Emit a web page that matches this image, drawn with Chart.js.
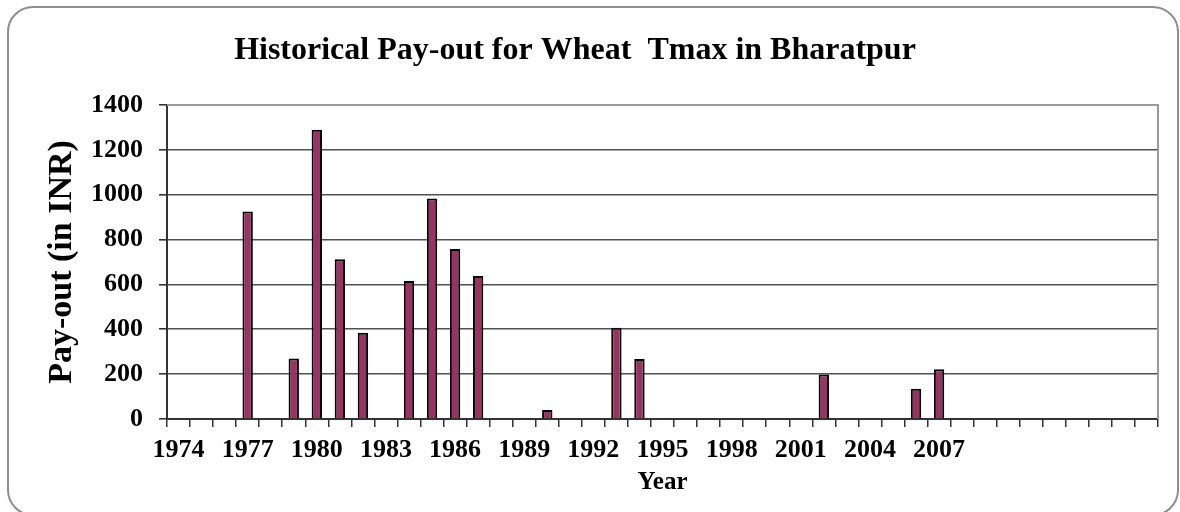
<!DOCTYPE html>
<html>
<head>
<meta charset="utf-8">
<script src="https://cdn.jsdelivr.net/npm/chart.js@4.4.1/dist/chart.umd.min.js"></script>
<style>
  html, body { margin: 0; padding: 0; background: #fff; }
  #wrap { position: relative; width: 1180px; height: 512px; }
  #frame {
    position: absolute; left: 7px; top: 6px; width: 1172px; height: 510px;
    border: 2px solid #8e8e8e; border-radius: 26px; box-sizing: border-box;
  }
  canvas { position: absolute; left: 0; top: 0; }
</style>
</head>
<body>
<div id="wrap">
  <div id="frame"></div>
  <canvas id="chart" width="1180" height="512"></canvas>
</div>
<script>
// years on the category axis (the sheet had 9 more empty rows after 2007)
const years = [
  '1974', '1975', '1976', '1977', '1978', '1979', '1980', '1981', '1982', '1983',
  '1984', '1985', '1986', '1987', '1988', '1989', '1990', '1991', '1992', '1993',
  '1994', '1995', '1996', '1997', '1998', '1999', '2000', '2001', '2002', '2003',
  '2004', '2005', '2006', '2007', '', '', '', '', '', '', '', '', ''
];
// pay-out in INR
const payout = [
  0, 0, 0, 925, 0, 270, 1290, 712, 385, 0,
  615, 983, 758, 638, 0, 0, 40, 0, 0, 407,
  268, 0, 0, 0, 0, 0, 0, 0, 198, 0,
  0, 0, 135, 222, null, null, null, null, null, null, null, null, null
];
const yTicks = [0, 200, 400, 600, 800, 1000, 1200, 1400];
const chartTitle = 'Historical Pay-out for Wheat  Tmax in Bharatpur';

const serif = "'Liberation Serif', 'Times New Roman', serif";

// title sits a bit left of the plot centre in the original, so draw it here
const titleText = {
  id: 'titleText',
  afterDraw(chart) {
    const c = chart.ctx;
    c.save();
    c.fillStyle = '#000';
    c.font = 'bold 32px ' + serif;
    c.textAlign = 'center';
    c.textBaseline = 'middle';
    c.fillText(chartTitle, 575, 51);
    c.restore();
  }
};

// light grey plot-area edge on top and right
const plotEdge = {
  id: 'plotEdge',
  afterDraw(chart) {
    const a = chart.chartArea, c = chart.ctx;
    c.save();
    c.strokeStyle = '#9a9a9a';
    c.lineWidth = 2;
    c.beginPath();
    c.moveTo(a.left, a.top);
    c.lineTo(a.right, a.top);
    c.lineTo(a.right, a.bottom);
    c.stroke();
    c.restore();
  }
};

new Chart(document.getElementById('chart'), {
  type: 'bar',
  data: {
    labels: years,
    datasets: [{
      label: 'Pay-out',
      data: payout,
      backgroundColor: '#993366',
      borderColor: '#000',
      borderWidth: 2,
      categoryPercentage: 1,
      barPercentage: 0.45
    }]
  },
  options: {
    responsive: false,
    animation: false,
    layout: { padding: { left: 42, right: 22, top: 105, bottom: 12 } },
    plugins: {
      legend: { display: false },
      tooltip: { enabled: false },
      title: { display: false }
    },
    scales: {
      x: {
        grid: { display: true, drawOnChartArea: false, drawTicks: true, tickLength: 8, color: '#333', lineWidth: 1.5 },
        border: { color: '#333', width: 2 },
        ticks: {
          autoSkip: false, maxRotation: 0, color: '#000', padding: 8,
          font: { family: serif, size: 26, weight: 'bold' },
          callback: function (v, i) { return i % 3 === 0 ? years[i] : ''; }
        },
        title: {
          display: true, text: 'Year', color: '#000',
          font: { family: serif, size: 25, weight: 'bold' },
          padding: { top: 0, bottom: 2 }
        },
        afterFit(s) { s.height = 81; }
      },
      y: {
        min: 0, max: 1400,
        afterBuildTicks(s) { s.ticks = yTicks.map(v => ({ value: v })); },
        grid: { color: '#505050', lineWidth: 1.6, tickLength: 8, tickColor: '#333' },
        border: { color: '#333', width: 2 },
        ticks: {
          color: '#000', padding: 16,
          font: { family: serif, size: 26, weight: 'bold' },
          callback: function (v) { return String(v); }
        },
        title: {
          display: true, text: 'Pay-out (in INR)', color: '#000',
          font: { family: serif, size: 34, weight: 'bold' },
          padding: { top: 0, bottom: 0 }
        },
        afterFit(s) { s.width = 125; }
      }
    }
  },
  plugins: [plotEdge, titleText]
});
</script>
</body>
</html>
